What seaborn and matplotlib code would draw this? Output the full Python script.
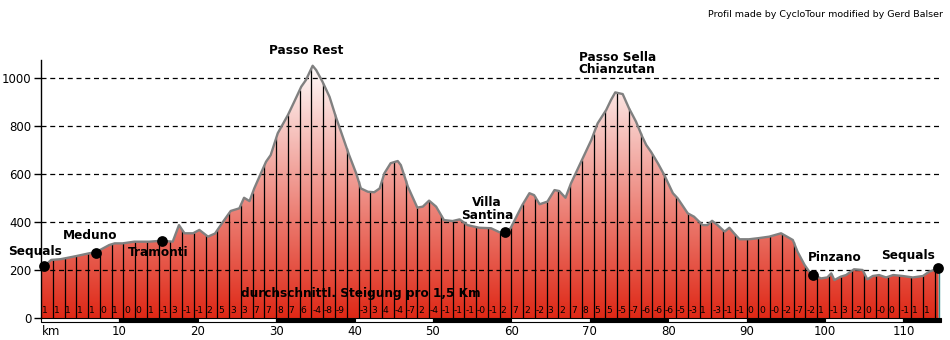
import numpy as np
import matplotlib
matplotlib.use("Agg")
import matplotlib.pyplot as plt
import seaborn as sns
from matplotlib.colors import LinearSegmentedColormap
from matplotlib.patches import Rectangle

# Elevation profile: distance (km) and altitude (m)
km = [0.0, 0.5, 1.3, 2.5, 4.5, 6.2, 7.0, 7.9, 8.7, 9.4, 10.4, 11.9, 13.8, 15.4,
      16.8, 17.6, 18.3, 19.4, 20.2, 21.3, 22.2, 23.2, 24.2, 25.3, 25.9, 26.6,
      27.2, 28.7, 29.3, 30.2, 31.5, 32.3, 33.2, 33.8, 34.65, 35.1, 35.9, 36.8,
      37.6, 38.5, 39.3, 40.2, 40.8, 41.7, 42.5, 43.2, 43.8, 44.6, 45.5, 45.9,
      46.8, 48.0, 48.7, 49.5, 50.4, 51.4, 52.5, 53.4, 54.4, 55.9, 57.4, 58.5,
      59.2, 59.9, 61.4, 62.3, 62.9, 63.6, 64.6, 65.5, 66.1, 66.9, 67.6, 68.2,
      69.1, 70.2, 71.0, 72.1, 72.7, 73.25, 74.2, 75.0, 75.9, 76.7, 77.2, 77.8,
      78.7, 79.5, 80.6, 81.2, 82.5, 83.3, 84.4, 85.0, 85.6, 86.3, 87.2, 87.8,
      88.4, 89.1, 90.3, 91.6, 92.9, 94.4, 95.0, 95.9, 96.5, 97.4, 98.0, 98.5,
      99.5, 100.3, 100.8, 101.2, 102.0, 102.7, 103.7, 104.8, 105.4, 106.1,
      106.9, 107.8, 108.7, 109.9, 111.2, 112.5, 113.3, 114.5]
elev = [212, 218, 242, 245, 258, 270, 274, 290, 304, 311, 311, 318, 318, 322,
        318, 387, 353, 353, 367, 339, 352, 400, 446, 457, 501, 487,
        540, 651, 679, 770, 846, 901, 964, 992, 1051, 1033, 985, 922,
        839, 755, 679, 603, 540, 526, 524, 540, 603, 645, 654, 637,
        547, 460, 464, 489, 464, 408, 404, 411, 387, 376, 374, 357,
        360, 374, 471, 520, 512, 474, 485, 533, 529, 501, 561, 603,
        665, 742, 811, 867, 908, 940, 933, 874, 818, 755, 721, 693,
        644, 596, 520, 499, 436, 422, 387, 387, 405, 387, 360, 376,
        353, 328, 328, 333, 339, 353, 342, 325, 276, 221, 193, 179,
        165, 169, 186, 158, 172, 179, 203, 200, 161, 175,
        179, 169, 179, 175, 169, 175, 193, 207]

# Towns and passes
places = ["Sequals", "Meduno", "Tramonti", "Villa\nSantina", "Pinzano", "Sequals"]
place_km = [0.4, 7.0, 15.4, 59.2, 98.5, 114.4]
place_elev = [217, 272, 322, 360, 179, 208]
passes = ["Passo Rest", "Passo Sella\nChianzutan"]

# Average gradient (%) for every 1.5 km section
gradients = ["1", "1", "1", "1", "1", "0", "1", "0", "0", "1",
             "-1", "3", "-1", "-1", "2", "5", "3", "3", "7", "7",
             "8", "7", "6", "-4", "-8", "-9", "", "-3", "3", "4",
             "-4", "-7", "2", "-4", "-1", "-1", "-1", "-0", "-1", "2",
             "7", "2", "-2", "3", "2", "7", "8", "5", "5", "-5",
             "-7", "-6", "-6", "-6", "-5", "-3", "1", "-3", "-1", "-1",
             "0", "0", "-0", "-2", "-7", "-2", "1", "-1", "3", "-2",
             "0", "-0", "0", "-1", "1", "1"]
section_km = 1.5

x_ticks = [10, 20, 30, 40, 50, 60, 70, 80, 90, 100, 110]
y_ticks = [0, 200, 400, 600, 800, 1000]

sns.set_theme(style="white")
plt.rcParams["font.family"] = ["DejaVu Sans"]
plt.rcParams["text.color"] = "black"
plt.rcParams["xtick.color"] = "black"
plt.rcParams["ytick.color"] = "black"
plt.rcParams["axes.labelcolor"] = "black"

fig = plt.figure(figsize=(9.5, 3.4), dpi=100)
ax = fig.add_axes([41 / 950, 18 / 340, 900 / 950, 262 / 340])
x_max = 114.8
y_top = 1075
bar_h = 16.7
ax.set_xlim(0, x_max)
ax.set_ylim(-bar_h, y_top)
ax.set_facecolor("white")

# Gradient-filled terrain
cmap = LinearSegmentedColormap.from_list("relief", ["#DF2816", "#FFFFFF"])
grad = np.linspace(0, 1, 256).reshape(-1, 1)
im = ax.imshow(grad, cmap=cmap, origin="lower", aspect="auto",
               extent=[0, km[-1], 0, y_top], zorder=1)
fill = ax.fill_between(km, elev, 0, facecolor="none", edgecolor="none")
im.set_clip_path(fill.get_paths()[0], transform=ax.transData)

# Dashed horizontal grid
for y in y_ticks[1:]:
    ax.axhline(y, color="black", lw=0.9, ls=(0, (4, 3)), zorder=3)

# Section dividers every 1.5 km
sec_x = np.arange(1, int(km[-1] / section_km) + 1) * section_km
ax.vlines(sec_x, 0, np.interp(sec_x, km, elev), color="black", lw=0.9, zorder=3)
ax.vlines(km[-1], 0, elev[-1], color="#2f8f8f", lw=1.0, zorder=3)

# Profile outline
sns.lineplot(x=km, y=elev, color="#808080", lw=1.7, ax=ax, zorder=4)

# Section gradient labels
for i, g in enumerate(gradients):
    ax.text(i * section_km + 0.1, 33, g, fontsize=6.6, ha="left", va="center",
            color="black", zorder=5)

ax.text(40.8, 100, "durchschnittl. Steigung pro 1,5 Km", fontsize=8.7,
        fontweight="bold", ha="center", va="center", color="black", zorder=5)

# Town markers
sns.scatterplot(x=place_km, y=place_elev, color="black", s=60, linewidth=0,
                ax=ax, zorder=6, clip_on=False, legend=False)

label_pos = [(-0.8, 279), (6.25, 344), (15.0, 271), (56.9, 454), (101.3, 252), (110.6, 262)]
for name, (lx, ly) in zip(places, label_pos):
    ax.text(lx, ly, name, fontsize=8.7, fontweight="bold", ha="center",
            va="center", linespacing=0.95, color="black", zorder=6, clip_on=False)

pass_pos = [(33.8, 1115), (73.5, 1060)]
for name, (lx, ly) in zip(passes, pass_pos):
    ax.text(lx, ly, name, fontsize=8.7, fontweight="bold", ha="center",
            va="center", linespacing=0.95, color="black", zorder=6, clip_on=False)

# Alternating 10 km scale bar
for i in range(int(np.ceil(x_max / 10))):
    x0 = i * 10
    w = min(10, x_max - x0)
    ax.add_patch(Rectangle((x0, -bar_h), w, bar_h,
                           facecolor="white" if i % 2 == 0 else "black",
                           edgecolor="black", lw=0.8, zorder=5, clip_on=False))

# Axes styling
for side in ["top", "right", "bottom"]:
    ax.spines[side].set_visible(False)
ax.spines["left"].set_color("black")
ax.spines["left"].set_linewidth(1.0)
ax.spines["left"].set_bounds(0, y_top)
ax.spines["left"].set_zorder(7)

ax.set_yticks(y_ticks)
ax.set_yticklabels([str(v) for v in y_ticks])
ax.tick_params(axis="y", left=True, length=5, width=1, color="black",
               labelcolor="black", labelsize=8.5, pad=2, direction="out")
ax.set_xticks(x_ticks)
ax.set_xticklabels([str(v) for v in x_ticks])
ax.tick_params(axis="x", bottom=False, length=0, labelcolor="black",
               labelsize=8.5, pad=2)
ax.annotate("km", xy=(0.05, 0), xycoords=("data", "axes fraction"),
            xytext=(0, -2), textcoords="offset points", ha="left", va="top",
            fontsize=8.5, color="black")
ax.set_xlabel("")
ax.set_ylabel("")
ax.grid(False)

fig.text(943 / 950, 1 - 14.5 / 340,
         "Profil made by CycloTour modified by Gerd Balser",
         fontsize=6.8, ha="right", va="center", color="black")

fig.savefig("out.png", dpi=100, facecolor="white")
